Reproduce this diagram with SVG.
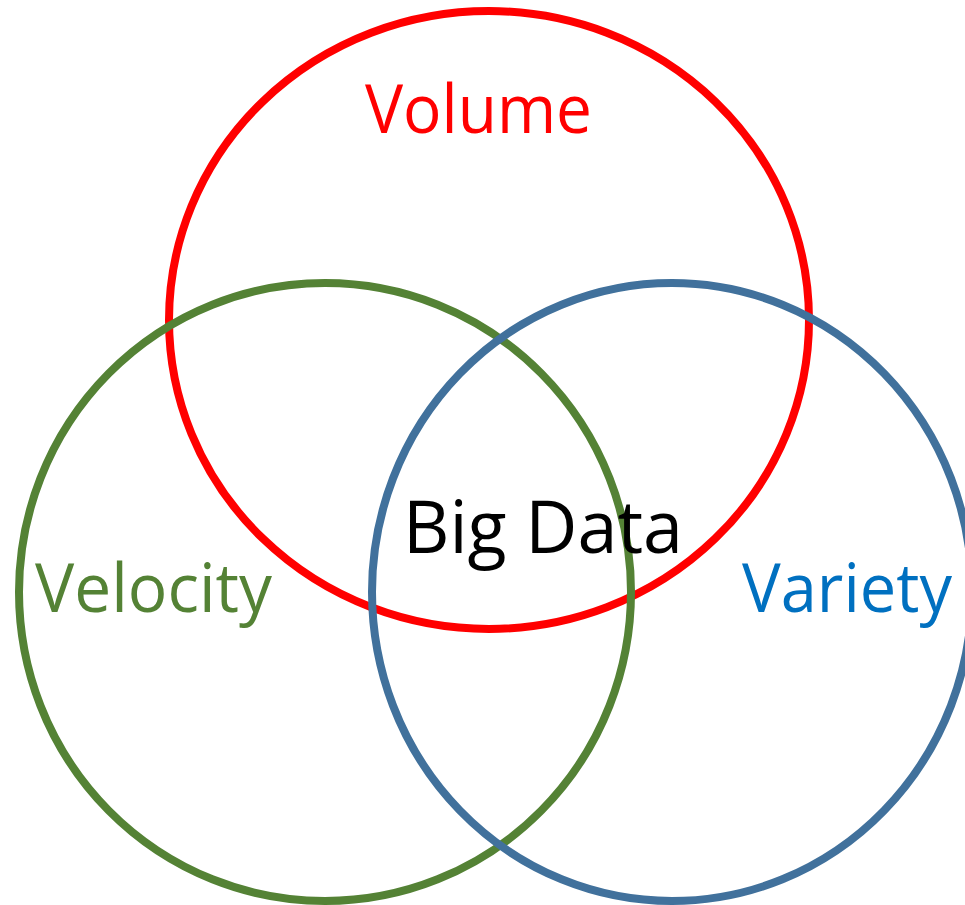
<svg xmlns="http://www.w3.org/2000/svg" width="965" height="905" viewBox="0 0 965 905">
<style>
.c{fill:none;stroke-width:8}
.t{font-family:"Open Sans","Liberation Sans",sans-serif;font-size:68px}
</style>
<rect width="965" height="905" fill="#fff"/>
<g id="connectors"/>
<g id="volume">
<ellipse class="c" cx="489" cy="320" rx="320" ry="309" stroke="#FF0000"/>
<text class="t" x="365" y="133" fill="#FF0000" textLength="227" lengthAdjust="spacingAndGlyphs">Volume</text>
</g>
<g id="velocity">
<ellipse class="c" cx="325" cy="592" rx="306" ry="309" stroke="#548235"/>
<text class="t" x="35" y="612" fill="#548235" textLength="237" lengthAdjust="spacingAndGlyphs">Velocity</text>
</g>
<g id="variety">
<ellipse class="c" cx="672" cy="592" rx="300" ry="309" stroke="#41719C"/>
<text class="t" x="742" y="612" fill="#0070C0" textLength="210" lengthAdjust="spacingAndGlyphs">Variety</text>
</g>
<g id="bigdata">
<text class="t" x="403" y="553" fill="#000" style="font-size:74px" textLength="280" lengthAdjust="spacingAndGlyphs">Big Data</text>
</g>
</svg>
